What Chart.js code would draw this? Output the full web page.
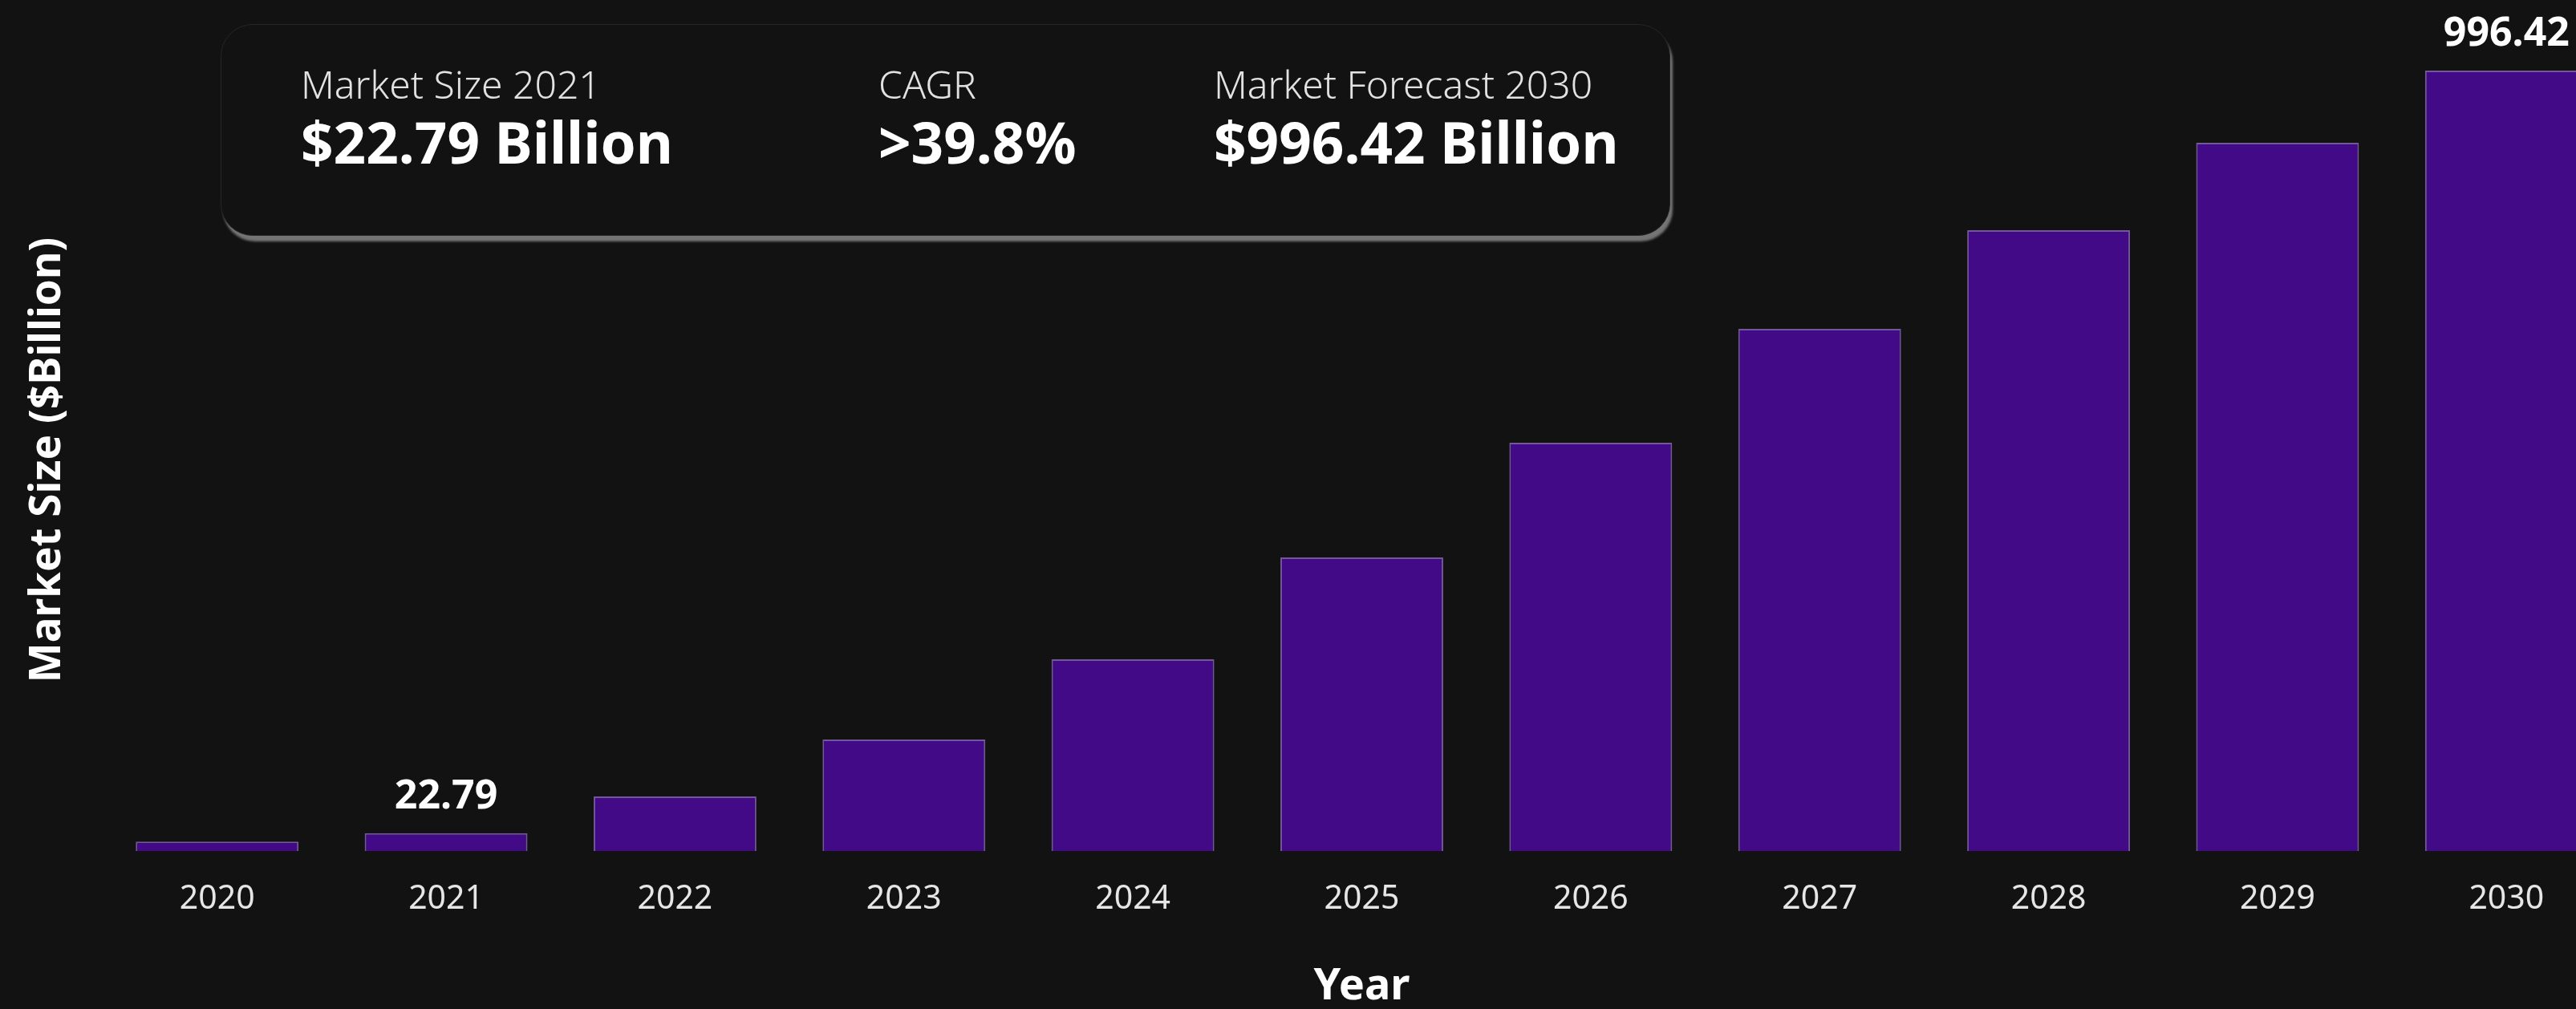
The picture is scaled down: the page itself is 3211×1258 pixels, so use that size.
<!DOCTYPE html>
<html>
<head>
<meta charset="utf-8">
<script src="https://cdn.jsdelivr.net/npm/chart.js@4.4.1/dist/chart.umd.min.js"></script>
<style>
html, body { margin: 0; padding: 0; background: #121212; overflow: hidden; }
#wrap { position: relative; width: 3211px; height: 1258px; overflow: hidden; background: #121212; }
#chartBox { position: absolute; left: 0; top: 0; width: 3300px; height: 1258px; }
#resumo {
	position: absolute; left: 275px; top: 30px; width: 1807px; height: 264px;
	box-sizing: border-box; border-radius: 40px; background: #121212;
	border: 1px solid #262626; box-shadow: 3px 7px 3px rgba(150, 150, 150, 0.75);
	font-family: "Noto Sans", sans-serif; color: #fff;
}
.item { position: absolute; top: 0; }
.item .titulo { position: absolute; top: 50px; left: 0; white-space: nowrap; font-size: 48px; line-height: 1; font-weight: 300; color: #e2e2e2; }
.item .valor { position: absolute; top: 110px; left: 0; white-space: nowrap; font-size: 71px; line-height: 1; font-weight: 700; }
</style>
</head>
<body>
<div id="wrap">
	<div id="chartBox"><canvas id="graficoMercado"></canvas></div>
	<div id="resumo"></div>
</div>
<script>
// dados do grafico
anos = ['2020', '2021', '2022', '2023', '2024', '2025', '2026', '2027', '2028', '2029', '2030'];
valores = [12, 22.79, 69.6, 142.3, 244.8, 374.8, 521.2, 666.7, 792.6, 904.3, 996.42];
anosComRotulo = ['2021', '2030'];

resumoTitulos = ['Market Size 2021', 'CAGR', 'Market Forecast 2030'];
resumoValores = ['$22.79 Billion', '>39.8%', '$996.42 Billion'];
resumoPosicoes = [99, 819, 1237];

tituloX = 'Year';
tituloY = 'Market Size ($Billion)';

function montaResumo() {
	var caixa = document.getElementById('resumo');
	resumoTitulos.forEach(function (titulo, i) {
		var item = document.createElement('div');
		item.className = 'item';
		item.style.left = resumoPosicoes[i] + 'px';
		item.innerHTML = '<div class="titulo"></div><div class="valor"></div>';
		item.querySelector('.titulo').textContent = titulo;
		item.querySelector('.valor').textContent = resumoValores[i];
		caixa.appendChild(item);
	});
}

var rotulosPlugin = {
	id: 'rotulos',
	afterDatasetsDraw: function (chart) {
		var ctx = chart.ctx;
		var meta = chart.getDatasetMeta(0);
		ctx.save();
		ctx.font = 'bold 50px "Noto Sans"';
		ctx.fillStyle = '#ffffff';
		ctx.textAlign = 'center';
		ctx.textBaseline = 'alphabetic';
		meta.data.forEach(function (barra, i) {
			if (anosComRotulo.indexOf(anos[i]) < 0) return;
			ctx.fillText(valores[i].toFixed(2), barra.x, barra.y - 31);
		});
		ctx.restore();
	}
};

function makeChartMercado() {
	Chart.defaults.font.family = '"Noto Sans", sans-serif';
	var ctx = document.getElementById('graficoMercado').getContext('2d');
	new Chart(ctx, {
		type: 'bar',
		data: {
			labels: anos,
			datasets: [{
				data: valores,
				backgroundColor: '#420a87',
				borderColor: 'rgba(125, 95, 170, 0.9)',
				borderWidth: 2,
				categoryPercentage: 1,
				barPercentage: 0.711
			}]
		},
		options: {
			responsive: true,
			maintainAspectRatio: false,
			animation: false,
			layout: { padding: { left: 0, right: 33, top: 86, bottom: 0 } },
			plugins: {
				legend: { display: false },
				tooltip: { enabled: false }
			},
			scales: {
				x: {
					grid: { display: false, drawTicks: false },
					border: { display: false },
					ticks: { color: '#e6e6e6', font: { size: 41 }, padding: 36 },
					title: {
						display: true, text: tituloX, color: '#ffffff',
						font: { size: 54, weight: 'bold', lineHeight: 1 },
						padding: { top: 0, bottom: 0 }
					},
					afterFit: function (scale) { scale.height = 197; }
				},
				y: {
					min: 0,
					max: 998.5,
					grid: { display: false, drawTicks: false },
					border: { display: false },
					ticks: { display: false },
					title: {
						display: true, text: tituloY, color: '#ffffff',
						font: { size: 53, weight: 'bold', lineHeight: 1 },
						padding: { top: 33, bottom: 0 }
					},
					afterFit: function (scale) { scale.width = 128; }
				}
			}
		},
		plugins: [rotulosPlugin]
	});
}

montaResumo();
makeChartMercado();
</script>
</body>
</html>
